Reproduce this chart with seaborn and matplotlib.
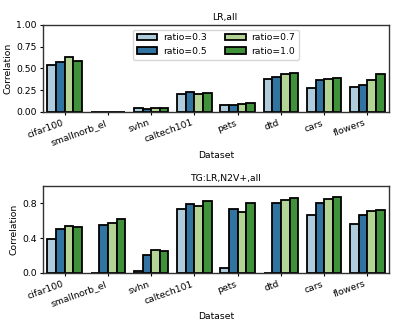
import matplotlib
matplotlib.use("Agg")
import matplotlib.pyplot as plt
import seaborn as sns
import pandas as pd

datasets = ["cifar100", "smallnorb_el", "svhn", "caltech101", "pets", "dtd", "cars", "flowers"]
ratios = ["ratio=0.3", "ratio=0.5", "ratio=0.7", "ratio=1.0"]

lr_r03 = [0.542, 0.002, 0.040, 0.204, 0.077, 0.380, 0.270, 0.285]
lr_r05 = [0.577, 0.002, 0.035, 0.227, 0.077, 0.400, 0.370, 0.308]
lr_r07 = [0.635, 0.002, 0.042, 0.208, 0.085, 0.435, 0.377, 0.370]
lr_r10 = [0.588, 0.002, 0.046, 0.220, 0.104, 0.446, 0.388, 0.430]

tg_r03 = [0.390, 0.003, 0.020, 0.730, 0.060, 0.003, 0.663, 0.560]
tg_r05 = [0.510, 0.550, 0.210, 0.790, 0.735, 0.800, 0.805, 0.663]
tg_r07 = [0.540, 0.575, 0.260, 0.766, 0.705, 0.835, 0.850, 0.716]
tg_r10 = [0.530, 0.625, 0.257, 0.830, 0.800, 0.866, 0.874, 0.728]

def make_df(series):
    rows = []
    for r, vals in zip(ratios, series):
        for d, v in zip(datasets, vals):
            rows.append({"Dataset": d, "ratio": r, "Correlation": v})
    return pd.DataFrame(rows)

df_lr = make_df([lr_r03, lr_r05, lr_r07, lr_r10])
df_tg = make_df([tg_r03, tg_r05, tg_r07, tg_r10])

palette = sns.color_palette("Paired", 4)
fs = 6.7
s = 0.665

fig = plt.figure(figsize=(3.99, 3.32), dpi=100)
ax1 = fig.add_axes([0.108, 0.663, 0.867, 0.262])
ax2 = fig.add_axes([0.108, 0.178, 0.867, 0.262])

for ax, df, title in [(ax1, df_lr, "LR,all"), (ax2, df_tg, "TG:LR,N2V+,all")]:
    sns.barplot(data=df, x="Dataset", y="Correlation", hue="ratio", palette=palette,
                edgecolor="black", linewidth=1.3, ax=ax)
    ax.set_title(title, fontsize=fs, pad=3.5, x=0.526)
    ax.set_xlabel("Dataset", fontsize=fs, labelpad=4 * s)
    ax.set_ylabel("Correlation", fontsize=fs, labelpad=4 * s)
    ax.tick_params(axis="both", labelsize=fs, length=3.5 * s, pad=3.5 * s)
    for lab in ax.get_xticklabels():
        lab.set_rotation(20)
        lab.set_ha("right")
    ax.set_ylim(0, 1)
    for sp in ax.spines.values():
        sp.set_linewidth(1.0)
        sp.set_color("#333333")

ax1.set_yticks([0, 0.25, 0.5, 0.75, 1.0])
ax1.set_yticklabels(["0.00", "0.25", "0.50", "0.75", "1.00"])
ax2.set_yticks([0, 0.4, 0.8])
ax2.set_yticklabels(["0.0", "0.4", "0.8"])

ax1.legend(ncol=2, fontsize=fs, loc="upper center", bbox_to_anchor=(0.5, 1.0),
           handlelength=2.2, handletextpad=0.6, columnspacing=2.0)
ax2.get_legend().remove()

fig.savefig("out.png", dpi=100)
